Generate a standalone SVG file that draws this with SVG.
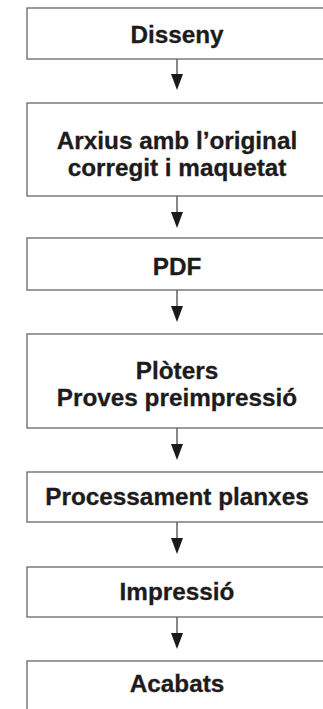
<svg xmlns="http://www.w3.org/2000/svg" width="323" height="709" viewBox="0 0 323 709">
<style>
.box{fill:#fff;stroke:#5a5a5a;stroke-width:1.2}
.lbl{font-family:"Liberation Sans",Arial,sans-serif;font-weight:bold;font-size:24.3px;fill:#1e1b1c;stroke:#1e1b1c;stroke-width:0.3;text-anchor:middle}
.conn{stroke:#3a3a3a;stroke-width:1.2;fill:none}
.head{fill:#1a1a1a}
</style>
<rect width="323" height="709" fill="#fff"/>
<g id="connectors">
<line class="conn" x1="177" y1="59" x2="177" y2="78"/><polygon class="head" points="171,74 183,74 177,90"/>
<line class="conn" x1="177" y1="196" x2="177" y2="216"/><polygon class="head" points="171,212 183,212 177,228"/>
<line class="conn" x1="177" y1="290" x2="177" y2="310"/><polygon class="head" points="171,306 183,306 177,322"/>
<line class="conn" x1="177" y1="428" x2="177" y2="448"/><polygon class="head" points="171,444 183,444 177,460"/>
<line class="conn" x1="177" y1="522" x2="177" y2="542"/><polygon class="head" points="171,538 183,538 177,554"/>
<line class="conn" x1="177" y1="617" x2="177" y2="637"/><polygon class="head" points="171,633 183,633 177,649"/>
</g>
<g id="n1"><rect class="box" x="27" y="8" width="310" height="51"/><text class="lbl" x="177" y="43">Disseny</text></g>
<g id="n2"><rect class="box" x="27" y="103" width="310" height="93"/><text class="lbl" x="177" y="149">Arxius amb l’original</text><text class="lbl" x="177" y="176">corregit i maquetat</text></g>
<g id="n3"><rect class="box" x="27" y="238" width="310" height="52"/><text class="lbl" x="177" y="275">PDF</text></g>
<g id="n4"><rect class="box" x="27" y="334" width="310" height="94"/><text class="lbl" x="177" y="379">Plòters</text><text class="lbl" x="177" y="406">Proves preimpressió</text></g>
<g id="n5"><rect class="box" x="27" y="472" width="310" height="50"/><text class="lbl" x="177" y="505">Processament planxes</text></g>
<g id="n6"><rect class="box" x="27" y="567" width="310" height="50"/><text class="lbl" x="177" y="600">Impressió</text></g>
<g id="n7"><rect class="box" x="27" y="661" width="310" height="60"/><text class="lbl" x="177" y="692">Acabats</text></g>
</svg>
